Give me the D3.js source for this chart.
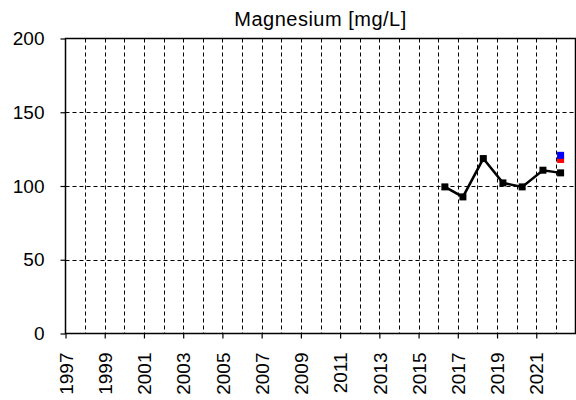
<!DOCTYPE html>
<html><head><meta charset="utf-8">
<script src="https://cdn.jsdelivr.net/npm/d3@7"></script>
<style>body{margin:0;background:#fff}svg{display:block}text{font-family:"Liberation Sans",Arial,sans-serif}</style>
</head><body>
<svg id="c" width="576" height="400"></svg>
<script>
const years = [2016.34, 2017.26, 2018.3, 2019.3, 2020.28, 2021.34, 2022.24];
const values = [99.4, 92.6, 118.6, 102.1, 99.4, 110.7, 108.9];
const blueYear = [2022.24];
const blueValue = [120.8];
const redYear = [2022.24];
const redValue = [118.0];
const yTicks = [0, 50, 100, 150, 200];
const xLabelYears = d3.range(1997, 2022, 2);
const gridYears = d3.range(1998, 2023, 1);
const title = "Magnesium [mg/L]";

const svg = d3.select("#c");
const L = 65.5, R = 575.5, T = 38.5, B = 333.5;
const x = d3.scaleLinear().domain([1997, 2023]).range([L, R]);
const y = d3.scaleLinear().domain([0, 200]).range([B, T]);

// grid
svg.append("g").selectAll("line").data(gridYears).join("line")
  .attr("x1", d => Math.round(x(d)) + 0.5).attr("x2", d => Math.round(x(d)) + 0.5)
  .attr("y1", T).attr("y2", B)
  .attr("stroke", "#000").attr("stroke-width", 1).attr("stroke-dasharray", "4,3");
svg.append("g").selectAll("line").data(yTicks.filter(d => d > 0 && d < 200)).join("line")
  .attr("x1", L).attr("x2", R)
  .attr("y1", d => Math.round(y(d)) + 0.5).attr("y2", d => Math.round(y(d)) + 0.5)
  .attr("stroke", "#000").attr("stroke-width", 1).attr("stroke-dasharray", "4,3");

// frame
svg.append("rect").attr("x", L).attr("y", T).attr("width", R - L).attr("height", B - T)
  .attr("fill", "none").attr("stroke", "#000").attr("stroke-width", 1.5);

// y axis
const ya = svg.append("g").attr("transform", `translate(${L},0)`)
  .call(d3.axisLeft(y).tickValues(yTicks).tickSize(5).tickPadding(16));
ya.select(".domain").remove();
ya.selectAll("line").attr("stroke", "#000").attr("stroke-width", 1.2);
ya.selectAll("text").attr("font-size", 19).attr("fill", "#000")
  .attr("font-family", "Liberation Sans, Arial, sans-serif");

// x axis
const xa = svg.append("g").attr("transform", `translate(0,${B})`)
  .call(d3.axisBottom(x).tickValues(xLabelYears).tickFormat(d3.format("d")).tickSize(5).tickPadding(6));
xa.select(".domain").remove();
xa.selectAll("line").attr("stroke", "#000").attr("stroke-width", 1.2);
xa.selectAll("text").attr("font-size", 19).attr("fill", "#000")
  .attr("font-family", "Liberation Sans, Arial, sans-serif")
  .attr("transform", "rotate(-90)").attr("text-anchor", "end")
  .attr("x", -19).attr("y", 0).attr("dy", "0.35em");

// line
const pts = years.map((d, i) => [d, values[i]]);
svg.append("path").datum(pts)
  .attr("d", d3.line().x(d => x(d[0])).y(d => y(d[1])))
  .attr("fill", "none").attr("stroke", "#000").attr("stroke-width", 2.5);
const s = 7;
svg.append("g").selectAll("rect").data(pts).join("rect")
  .attr("x", d => x(d[0]) - s / 2).attr("y", d => y(d[1]) - s / 2)
  .attr("width", s).attr("height", s).attr("fill", "#000");
svg.append("g").selectAll("rect").data(redYear.map((d, i) => [d, redValue[i]])).join("rect")
  .attr("x", d => x(d[0]) - s / 2).attr("y", d => y(d[1]) - s / 2)
  .attr("width", s).attr("height", s).attr("fill", "#ff0000");
svg.append("g").selectAll("rect").data(blueYear.map((d, i) => [d, blueValue[i]])).join("rect")
  .attr("x", d => x(d[0]) - s / 2).attr("y", d => y(d[1]) - s / 2)
  .attr("width", s).attr("height", s).attr("fill", "#0000ff");

// title
svg.append("text").attr("x", (L + R) / 2).attr("y", 26).attr("text-anchor", "middle")
  .attr("font-size", 20).attr("letter-spacing", 0.5).attr("fill", "#000").text(title);
</script>
</body></html>
